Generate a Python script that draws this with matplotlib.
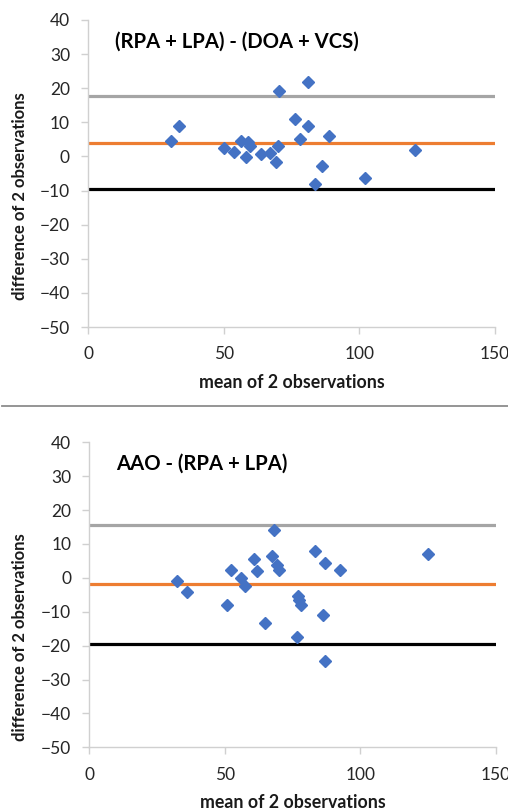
import matplotlib
matplotlib.use("Agg")
import matplotlib.pyplot as plt
from matplotlib.lines import Line2D

plt.rcParams['font.family'] = ['Lato', 'DejaVu Sans']

# Chart 1: (RPA + LPA) - (DOA + VCS)
title1 = "(RPA + LPA) - (DOA + VCS)"
mean1 = [30.5, 33.5, 50.1, 53.9, 56.3, 58.1, 59.1, 59.7, 63.8, 67.1, 69.3,
         69.9, 70.4, 76.4, 78.1, 81.1, 81.2, 83.7, 86.1, 88.8, 102.2, 120.4]
diff1 = [4.65, 8.8, 2.6, 1.4, 4.65, -0.1, 4.3, 3.0, 0.7, 1.0, -1.5,
         3.0, 19.2, 11.0, 5.0, 8.8, 21.7, -8.1, -2.7, 6.0, -6.2, 1.8]
upper1, bias1, lower1 = 17.7, 3.95, -9.6

# Chart 2: AAO - (RPA + LPA)
title2 = "AAO - (RPA + LPA)"
mean2 = [32.4, 35.9, 50.7, 52.2, 56.1, 57.5, 60.8, 62.0, 64.8, 67.3, 68.0,
         69.1, 70.0, 76.9, 77.4, 78.1, 76.5, 83.3, 87.0, 86.2, 87.0, 92.5, 124.9]
diff2 = [-0.8, -4.1, -8.0, 2.2, 0.1, -2.5, 5.7, 1.9, -13.4, 6.5, 14.0,
         3.7, 2.4, -5.4, -6.6, -8.0, -17.5, 7.9, 4.5, -10.9, -24.4, 2.3, 7.1]
upper2, bias2, lower2 = 15.6, -1.8, -19.5

xticks = [0, 50, 100, 150]
yticks = [-50, -40, -30, -20, -10, 0, 10, 20, 30, 40]
xlabel = "mean of 2 observations"
ylabel = "difference of 2 observations"

W, H = 508, 811
fig = plt.figure(figsize=(W / 100, H / 100), dpi=100)


def make(ax, title, mx, dy, up, bias, low):
    ax.set_xlim(0, 150)
    ax.set_ylim(-50, 40)
    ax.axhline(up, color='#A5A5A5', lw=2.3, zorder=2)
    ax.axhline(bias, color='#ED7D31', lw=2.3, zorder=2)
    ax.axhline(low, color='#000000', lw=2.3, zorder=2)
    ax.plot(mx, dy, linestyle='none', marker='D', markersize=6.6,
            color='#4472C4', zorder=3)
    ax.set_xticks(xticks)
    ax.set_yticks(yticks)
    for s in ['top', 'right']:
        ax.spines[s].set_visible(False)
    for s in ['left', 'bottom']:
        ax.spines[s].set_color('#D0D0D0')
        ax.spines[s].set_linewidth(1.0)
    ax.tick_params(axis='both', colors='#D0D0D0', labelcolor='#262626',
                   labelsize=12.5, length=5, width=1.0)
    ax.tick_params(axis='x', pad=9)
    ax.tick_params(axis='y', pad=8)
    ax.set_xlabel(xlabel, fontsize=12.8, fontweight='bold', color='#1a1a1a')
    ax.set_ylabel(ylabel, fontsize=12.0, fontweight='bold', color='#1a1a1a')
    ax.text(10, 33.6, title, fontsize=14.6, fontweight='bold', color='#000000',
            va='center', ha='left')
    ax.patch.set_alpha(0)


def px_axes(l, t, r, b):
    return fig.add_axes([l / W, 1 - b / H, (r - l) / W, (b - t) / H])


ax1 = px_axes(88, 20, 495, 327)
make(ax1, title1, mean1, diff1, upper1, bias1, lower1)
ax1.xaxis.set_label_coords(0.5, (327 - 382) / 307)
ax1.xaxis.label.set_va('center')
ax1.yaxis.set_label_coords((20 - 88) / 407, 1 - (196.5 - 20) / 307)
ax1.yaxis.label.set_va('center')

ax2 = px_axes(89.3, 442.3, 495.7, 747.3)
make(ax2, title2, mean2, diff2, upper2, bias2, lower2)
ax2.xaxis.set_label_coords(0.5, (747.3 - 803) / 305)
ax2.xaxis.label.set_va('center')
ax2.yaxis.set_label_coords((20 - 89.3) / 406.4, 1 - (637 - 442.3) / 305)
ax2.yaxis.label.set_va('center')

fig.add_artist(Line2D([2 / W, 1.0], [1 - 405.7 / H] * 2, color='#8C8C8C',
                      lw=1.3, transform=fig.transFigure))

fig.savefig('out.png', dpi=100, facecolor='white')
